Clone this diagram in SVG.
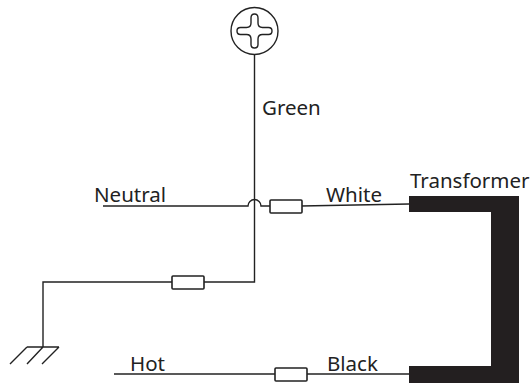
<svg xmlns="http://www.w3.org/2000/svg" width="531" height="384" viewBox="0 0 531 384">
<style>
.w{fill:none;stroke:#222;stroke-width:1.4}
.b{fill:#fff;stroke:#222;stroke-width:1.6}
.t{font-family:"Noto Sans","Open Sans",sans-serif;font-size:20.500px;fill:#222}
.k{fill:#231f20}
</style>
<g id="connectors">
<path class="w" d="M254.500 55V282H43V347"/>
<path class="w" d="M103 206H248A6.500 6.500 0 0 1 261 206H270"/>
<path class="w" d="M301 206L409 204"/>
<path class="w" d="M114 374H409"/>
</g>
<g id="ground-screw"><circle class="w" cx="254.500" cy="31" r="23.500"/>
<path class="w" d="M251 18Q251 14 254.500 14Q258 14 258 18V23Q258 27.500 262.500 27.500H268.500Q272 27.500 272 31Q272 34.500 268.500 34.500H262.500Q258 34.500 258 39V44.500Q258 48 254.500 48Q251 48 251 44.500V39Q251 34.500 246.500 34.500H240.500Q237 34.500 237 31Q237 27.500 240.500 27.500H246.500Q251 27.500 251 23Z"/></g>
<g id="earth"><path class="w" d="M27 347H59M27 347L10 364M43 347L27 364M59 347L42 364"/></g>
<g id="fuse-white"><rect class="b" x="270" y="200" width="32" height="13" rx="1"/></g>
<g id="fuse-ground"><rect class="b" x="172" y="276" width="32" height="13" rx="1"/></g>
<g id="fuse-black"><rect class="b" x="275" y="368" width="32" height="13" rx="1"/></g>
<g id="transformer"><path class="k" d="M409 196H519V383H409V366H491V212H409Z"/></g>
<g id="labels">
<text class="t" x="262" y="115">Green</text>
<text class="t" x="94" y="202">Neutral</text>
<text class="t" x="326" y="202">White</text>
<text class="t" x="410" y="188">Transformer</text>
<text class="t" x="130" y="371">Hot</text>
<text class="t" x="327" y="371">Black</text>
</g>
</svg>
